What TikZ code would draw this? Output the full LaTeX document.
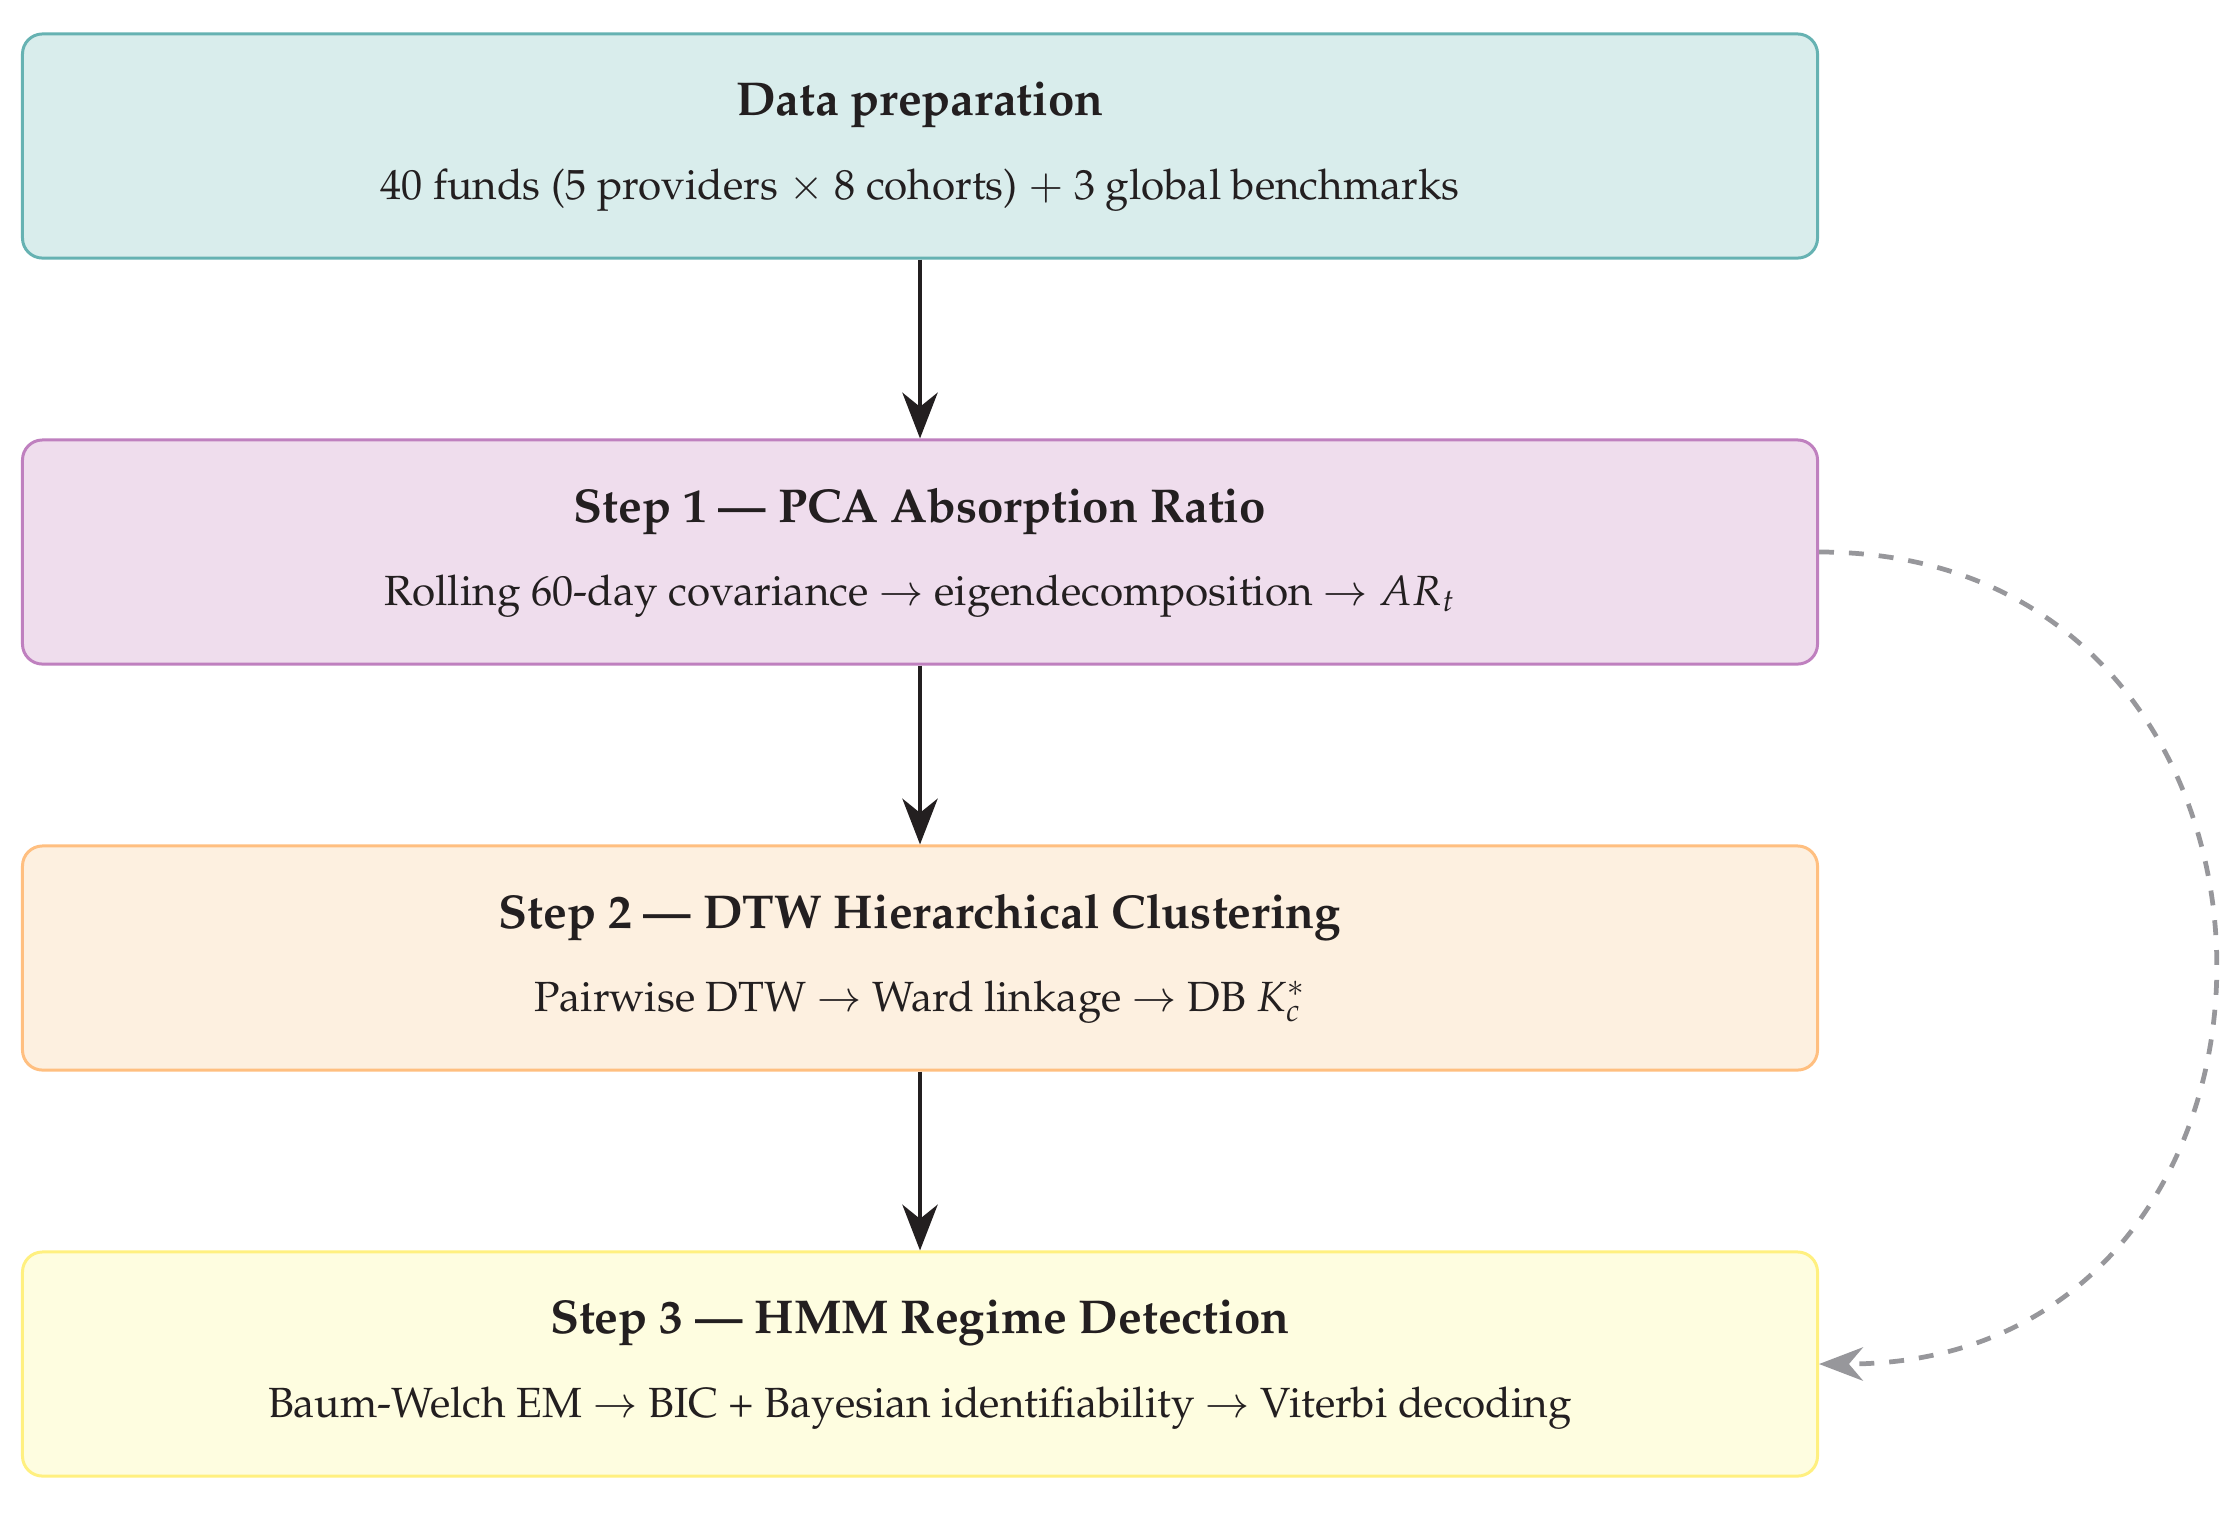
\documentclass[tikz,border=0pt]{standalone}
\usepackage[T1]{fontenc}
\usepackage{mathpazo}
\usetikzlibrary{arrows.meta}
\definecolor{txt}{HTML}{231F20}
\definecolor{f1}{HTML}{D9EDEC}\definecolor{d1}{HTML}{66B2B2}
\definecolor{f2}{HTML}{EFDDED}\definecolor{d2}{HTML}{BF80BF}
\definecolor{f3}{HTML}{FDF0E0}\definecolor{d3}{HTML}{FFBF80}
\definecolor{f4}{HTML}{FEFDE0}\definecolor{d4}{HTML}{FFF080}
\definecolor{gr}{HTML}{97979B}
\begin{document}
\begin{tikzpicture}[x=0.01cm,y=-0.01cm,
  stagebox/.style={draw, line width=0.85pt, rounded corners=0.2cm, minimum width=17.94cm, minimum height=2.24cm, inner sep=0pt},
  ttl/.style={text=txt, font=\fontsize{13.5}{16}\selectfont\bfseries, inner sep=0pt},
  bdy/.style={text=txt, font=\fontsize{12}{14}\selectfont, inner sep=0pt},
  mainarr/.style={draw=txt, line width=1.3pt, -{Stealth[length=13pt,width=10pt,inset=4pt]}},
  fbarr/.style={draw=gr, line width=1.35pt, dash pattern=on 4.25pt off 4.25pt, -{Stealth[length=12.5pt,width=9.5pt,inset=4pt]}}]
\useasboundingbox (0,0) rectangle (2240,1517);
\node[stagebox, fill=f1, draw=d1] (b1) at (920,146) {};
\node[stagebox, fill=f2, draw=d2] (b2) at (920,552) {};
\node[stagebox, fill=f3, draw=d3] (b3) at (920,958) {};
\node[stagebox, fill=f4, draw=d4] (b4) at (920,1364) {};
\node[ttl] (t1) at (920,105) {Data preparation};
\node[bdy] (s1) at (920,190) {40 funds (5 providers $\times$ 8 cohorts) $+$ 3 global benchmarks};
\node[ttl] (t2) at (920,511) {Step 1 --- PCA Absorption Ratio};
\node[bdy] (s2) at (920,596) {Rolling 60-day covariance $\rightarrow$ eigendecomposition $\rightarrow$ $AR_t$};
\node[ttl] (t3) at (920,917) {Step 2 --- DTW Hierarchical Clustering};
\node[bdy] (s3) at (920,1002) {Pairwise DTW $\rightarrow$ Ward linkage $\rightarrow$ DB $K_c^*$};
\node[ttl] (t4) at (920,1323) {Step 3 --- HMM Regime Detection};
\node[bdy] (s4) at (920,1408) {Baum-Welch EM $\rightarrow$ BIC + Bayesian identifiability $\rightarrow$ Viterbi decoding};
\draw[mainarr] (b1.south) -- (b2.north);
\draw[mainarr] (b2.south) -- (b3.north);
\draw[mainarr] (b3.south) -- (b4.north);
\draw[fbarr] (b2.east) to[out=0,in=0,looseness=1.66] (b4.east);
\end{tikzpicture}
\end{document}
